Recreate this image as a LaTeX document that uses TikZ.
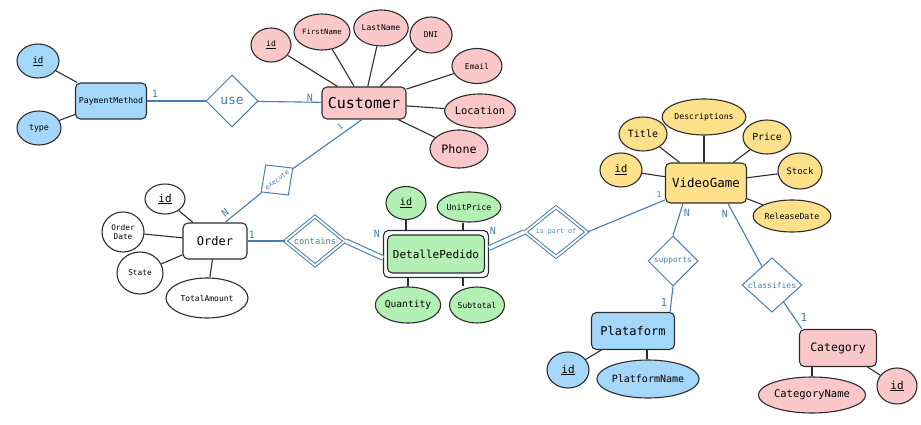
\documentclass[tikz,border=0pt]{standalone}
\usepackage{fontspec}
\setmonofont{DejaVu Sans Mono}
\usetikzlibrary{shapes.geometric}
\definecolor{dark}{RGB}{45,45,45}
\definecolor{relblue}{RGB}{70,125,180}
\definecolor{pinkf}{RGB}{250,200,200}
\definecolor{bluef}{RGB}{165,215,250}
\definecolor{greenf}{RGB}{178,240,180}
\definecolor{yellowf}{RGB}{255,225,140}
\newcommand\myfs[1]{\fontsize{#1}{#1}\selectfont\ttfamily}
\begin{document}
\begin{tikzpicture}[x=1pt,y=-1pt,
  ent/.style={draw=dark, rounded corners=5pt, line width=1.1pt, inner sep=0pt},
  attr/.style={ellipse, draw=dark, line width=1.1pt, inner sep=0pt},
  rel/.style={diamond, draw=relblue, line width=1pt, inner sep=0pt, text=relblue},
  drel/.style={rel, double=white, double distance=1.8pt},
  al/.style={draw=dark, line width=1.1pt},
  rl/.style={draw=relblue, line width=1.1pt},
  dl/.style={rl, double=white, double distance=3.5pt},
  card/.style={text=relblue, font=\myfs{10}, inner sep=0pt}]
\useasboundingbox (0,0) rectangle (921,425);

% ---------- PaymentMethod ----------
\node[ent, fill=bluef, minimum width=71, minimum height=36, font=\myfs{8.2}] (pm) at (111,101) {PaymentMethod};
\node[attr, fill=bluef, minimum width=42, minimum height=34, font=\myfs{9}] (pmid) at (38,61) {\underline{id}};
\node[attr, fill=bluef, minimum width=44, minimum height=34, font=\myfs{8.3}] (pmtype) at (39,128) {type};
\draw[al] (pmid) -- (pm);
\draw[al] (pmtype) -- (pm);

% ---------- use ----------
\node[rel, minimum width=52, minimum height=52, font=\myfs{13}] (use) at (232,101) {use};

% ---------- Customer ----------
\node[ent, fill=pinkf, minimum width=84, minimum height=32, font=\myfs{15}] (cust) at (364,103) {Customer};
\node[attr, fill=pinkf, minimum width=40, minimum height=34, font=\myfs{8}] (cid) at (271,45) {\underline{id}};
\node[attr, fill=pinkf, minimum width=44, minimum height=36, font=\myfs{7.3}] (cfn) at (322,32) {FirstName};
\node[attr, fill=pinkf, minimum width=47, minimum height=36, font=\myfs{8}] (cln) at (381,28) {LastName};
\node[attr, fill=pinkf, minimum width=42, minimum height=36, font=\myfs{8}] (cdni) at (431,35) {DNI};
\node[attr, fill=pinkf, minimum width=50, minimum height=35, font=\myfs{8}] (cem) at (477,66) {Email};
\node[attr, fill=pinkf, minimum width=55, minimum height=34, font=\myfs{10.4}] (cloc) at (480,111) {Location};
\node[attr, fill=pinkf, minimum width=58, minimum height=38, font=\myfs{11.7}] (cph) at (459,149) {Phone};
\foreach \a in {cid,cfn,cln,cdni,cem,cloc,cph} \draw[al] (\a) -- (cust);

\draw[rl] (pm) -- (use);
\draw[rl] (use) -- (cust);
\node[card] at (155,94) {1};
\node[card] at (310,98) {N};

% ---------- execute ----------
\node[rel, rotate=37, minimum width=40, minimum height=38, font=\myfs{6.7}] (exe) at (277,180) {execute};

% ---------- Order ----------
\node[ent, fill=white, minimum width=64, minimum height=36, font=\myfs{12}] (ord) at (215,241) {Order};
\node[attr, fill=white, minimum width=40, minimum height=30, font=\myfs{11}] (oid) at (165,199) {\underline{id}};
\node[attr, fill=white, minimum width=42, minimum height=40, font=\myfs{7.8}, align=center] (odate) at (123,232) {Order\\[1pt]Date};
\node[attr, fill=white, minimum width=46, minimum height=42, font=\myfs{7.8}] (ost) at (140,273) {State};
\node[attr, fill=white, minimum width=82, minimum height=40, font=\myfs{8}] (otot) at (207,298) {TotalAmount};
\foreach \a in {oid,odate,ost,otot} \draw[al] (\a) -- (ord);

\draw[rl] ([xshift=-2pt]cust.south) -- (exe);
\draw[rl] (exe) -- ([xshift=10pt]ord.north);
\node[card, rotate=37, font=\myfs{8}] at (340,127) {1};
\node[card, rotate=37] at (225,213) {N};

% ---------- contains ----------
\node[drel, minimum width=60, minimum height=46, font=\myfs{8.8}] (cont) at (315,241) {contains};

% ---------- DetallePedido ----------
\node[ent, fill=white, minimum width=105, minimum height=47] (det) at (436,254) {};
\node[ent, fill=greenf, minimum width=97, minimum height=38, font=\myfs{11}] (detin) at (436,254) {DetallePedido};
\node[attr, fill=greenf, minimum width=40, minimum height=33, font=\myfs{10}] (did) at (406,203) {\underline{id}};
\node[attr, fill=greenf, minimum width=59, minimum height=30, font=\myfs{8.3}] (dup) at (469,207) {UnitPrice};
\node[attr, fill=greenf, minimum width=55, minimum height=36, font=\myfs{9.6}] (dq) at (408,305) {Quantity};
\node[attr, fill=greenf, minimum width=55, minimum height=36, font=\myfs{8}] (dst) at (477,305) {Subtotal};
\draw[al] (did) -- (did |- det.north);
\draw[al] ([xshift=-6pt]dup.south) -- ([xshift=-6pt]dup.south |- det.north);
\draw[al] (dq) -- (dq |- det.south);
\draw[al] ([xshift=-14pt]dst.north) -- ([xshift=-14pt]dst.north |- det.south);

\draw[rl] (ord) -- (cont);
\draw[dl] (cont.east) -- ([yshift=-4pt]det.west);
\node[card] at (252,235) {1};
\node[card] at (377,234) {N};

% ---------- is part of ----------
\node[drel, minimum width=62, minimum height=50, font=\myfs{6.7}] (isp) at (556,232) {is part of};
\draw[dl] ([yshift=6pt]det.east) -- (isp.west);
\node[card] at (493,231) {N};

% ---------- VideoGame ----------
\node[ent, fill=yellowf, minimum width=81, minimum height=40, font=\myfs{12.5}] (vg) at (706,183) {VideoGame};
\node[attr, fill=yellowf, minimum width=42, minimum height=34, font=\myfs{10.5}] (vid) at (621,170) {\underline{id}};
\node[attr, fill=yellowf, minimum width=48, minimum height=34, font=\myfs{10}] (vti) at (643,134) {Title};
\node[attr, fill=yellowf, minimum width=72, minimum height=36, font=\myfs{8.2}] (vde) at (704,117) {Descriptions};
\node[attr, fill=yellowf, minimum width=48, minimum height=34, font=\myfs{9.8}] (vpr) at (767,137) {Price};
\node[attr, fill=yellowf, minimum width=44, minimum height=36, font=\myfs{8.9}] (vst) at (800,171) {Stock};
\node[attr, fill=yellowf, minimum width=74, minimum height=32, font=\myfs{8.3}] (vrd) at (792,216) {ReleaseDate};
\foreach \a in {vid,vti,vpr,vst,vrd} \draw[al] (\a) -- (vg);
\draw[al] (vde) -- (vde |- vg.north);

\draw[rl] (isp.east) -- (vg);
\node[card, font=\myfs{8}] at (659,195) {1};

% ---------- supports / Plataform ----------
\node[rel, minimum width=50, minimum height=50, font=\myfs{7.8}] (sup) at (673,261) {supports};
\node[ent, fill=bluef, minimum width=83, minimum height=37, font=\myfs{12}] (plat) at (633,331) {Plataform};
\node[attr, fill=bluef, minimum width=42, minimum height=36, font=\myfs{11}] (plid) at (568,370) {\underline{id}};
\node[attr, fill=bluef, minimum width=94, minimum height=38, font=\myfs{10}] (plnm) at (648,379) {PlatformName};
\draw[al] (plid) -- (plat);
\draw[al] ([xshift=-1pt]plnm.north) -- ([xshift=-1pt]plnm.north |- plat.south);
\draw[rl] ([xshift=-23pt]vg.south) -- (sup.north);
\draw[rl] (sup.south) -- ([xshift=-5pt]plat.north east);
\node[card] at (687,213) {N};
\node[card, font=\myfs{11}] at (664,302) {1};

% ---------- classifies / Category ----------
\node[rel, minimum width=60, minimum height=50, font=\myfs{8}] (cls) at (772,285) {classifies};
\node[ent, fill=pinkf, minimum width=77, minimum height=37, font=\myfs{11.5}] (cat) at (838,348) {Category};
\node[attr, fill=pinkf, minimum width=92, minimum height=36, font=\myfs{10.5}] (catnm) at (812,395) {CategoryName};
\node[attr, fill=pinkf, minimum width=40, minimum height=36, font=\myfs{11}] (catid) at (897,386) {\underline{id}};
\draw[al] (catnm) -- (catnm |- cat.south);
\draw[al] (catid) -- (cat);
\draw[rl] ([xshift=22pt]vg.south) -- (cls);
\draw[rl] (cls) -- ([xshift=3pt]cat.north west);
\node[card] at (725,214) {N};
\node[card, font=\myfs{11}] at (804,317) {1};
\end{tikzpicture}
\end{document}
